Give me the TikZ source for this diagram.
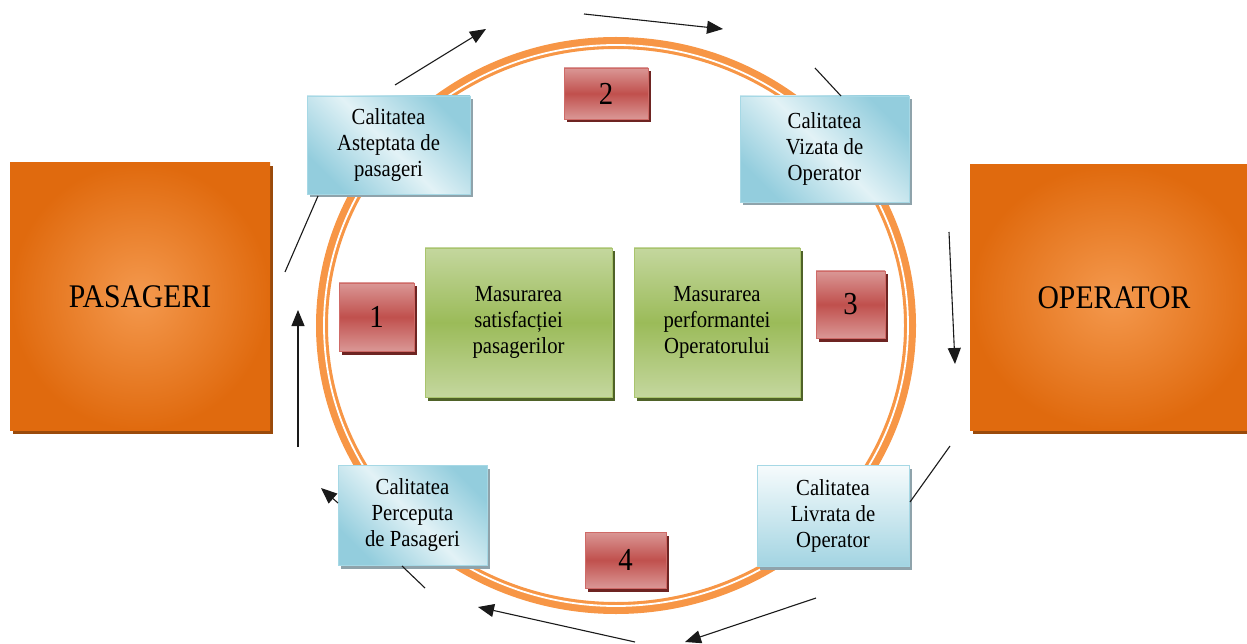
\documentclass[tikz,border=0pt]{standalone}
\usepackage{fontspec}
\setmainfont{LiberationSerif}[Extension=.ttf, UprightFont=*-Regular, BoldFont=*-Bold]
\newfontfamily\narrowserif{LiberationSerif}[Extension=.ttf, UprightFont=*-Regular, FakeStretch=0.9]
\usetikzlibrary{arrows.meta,shadows}
\definecolor{ringor}{HTML}{F79646}
\definecolor{ordark}{HTML}{E06A0E}
\definecolor{orlight}{HTML}{F4994E}
\definecolor{orshadow}{HTML}{9A4A0B}
\definecolor{redmid}{HTML}{C0504D}
\definecolor{redlight}{HTML}{DA9795}
\definecolor{redborder}{HTML}{CF6A67}
\definecolor{redshadow}{HTML}{6E2422}
\definecolor{grmid}{HTML}{9BBB59}
\definecolor{grlight}{HTML}{C4D79E}
\definecolor{grborder}{HTML}{A9C46D}
\definecolor{grshadow}{HTML}{4F6228}
\definecolor{bllight}{HTML}{E2F2F6}
\definecolor{bldark}{HTML}{93CDDD}
\definecolor{blborder}{HTML}{A6D8E5}
\definecolor{blshadow}{HTML}{8FA3AB}
\definecolor{linecol}{HTML}{1A1A1A}
\begin{document}
\begin{tikzpicture}[x=1pt,y=-1pt,
  sz/.style 2 args={minimum width=#1pt, minimum height=#2pt},
  basebox/.style={rectangle, inner sep=0pt, align=center, text=black},
  shad/.style={drop shadow={shadow xshift=3pt, shadow yshift=-3.5pt, fill=#1, opacity=1}},
  orangebox/.style={basebox, inner color=orlight, outer color=ordark, shad=orshadow,
    font=\narrowserif\fontsize{33}{38}\selectfont},
  redbox/.style={basebox, top color=redlight, bottom color=redlight, middle color=redmid,
    draw=redborder, line width=0.8pt, shad=redshadow, font=\narrowserif\fontsize{32}{36}\selectfont},
  greenbox/.style={basebox, top color=grlight, bottom color=grlight, middle color=grmid,
    draw=grborder, line width=0.8pt, shad=grshadow, font=\narrowserif\fontsize{23}{26}\selectfont},
  bluediag/.style={basebox, top color=bldark, bottom color=bldark, middle color=bllight,
    shading angle=-45, draw=blborder, line width=0.8pt, shad=blshadow,
    font=\narrowserif\fontsize{23}{26}\selectfont},
  bluevert/.style={basebox, top color=white!70!bllight, bottom color=bldark!80!bllight,
    draw=blborder, line width=0.8pt, shad=blshadow,
    font=\narrowserif\fontsize{23}{26}\selectfont},
  ringouter/.style={draw=ringor, line width=12pt},
  ringinner/.style={draw=white, line width=1.8pt},
  arr/.style={draw=linecol, line width=1.1pt, -{Triangle[length=16pt,width=13pt]}},
  ln/.style={draw=linecol, line width=1.1pt}]
\useasboundingbox (0,0) rectangle (1247,644);
\begin{scope}
\clip (0,0) rectangle (1247,644);
% ring
\draw[ringouter] (616,325.5) ellipse [x radius=294pt, y radius=282.5pt];
\draw[ringinner] (616,325.5) ellipse [x radius=292pt, y radius=280.5pt];
% big boxes
\node[orangebox, sz={260}{267}] (pas) at (140,296.5) {PASAGERI};
\node[orangebox, sz={288}{265}] (op) at (1114,297.5) {OPERATOR};
% blue boxes
\node[bluediag, sz={163}{98}] (ast) at (388.5,145) {Calitatea\\Asteptata de\\pasageri};
\node[bluediag, sz={169}{106}] (viz) at (824.5,149) {Calitatea\\Vizata de\\Operator};
\node[bluediag, sz={149}{100}] (per) at (412.5,515) {Calitatea\\Perceputa\\de Pasageri};
\node[bluevert, sz={152}{101}] (liv) at (833,515.5) {Calitatea\\Livrata de\\Operator};
% red boxes
\node[redbox, sz={75}{68}] (r1) at (376.5,317) {1};
\node[redbox, sz={84}{51}] (r2) at (606,93.5) {2};
\node[redbox, sz={69}{67}] (r3) at (850.5,304.5) {3};
\node[redbox, sz={81}{56}] (r4) at (625.5,560) {4};
% green boxes
\node[greenbox, sz={187}{149}] (g1) at (518.5,322.5) {Masurarea\\satisfacției\\pasagerilor};
\node[greenbox, sz={166}{149}] (g2) at (717,322.5) {Masurarea\\performantei\\Operatorului};
% arrow end points
\coordinate (a1s) at (285,272); \coordinate (a1e) at (318,196);
\coordinate (a2s) at (395,85);  \coordinate (a2e) at (486,29);
\coordinate (a3s) at (584,14);  \coordinate (a3e) at (723,29);
\coordinate (a4s) at (815,68);  \coordinate (a4e) at (841,96);
\coordinate (a5s) at (949,232); \coordinate (a5e) at (955,364);
\coordinate (a6s) at (950,446); \coordinate (a6e) at (910,502);
\coordinate (a7s) at (816,598); \coordinate (a7e) at (685,642);
\coordinate (a8s) at (635,642); \coordinate (a8e) at (478,607);
\coordinate (a9s) at (402,566); \coordinate (a9e) at (425,588);
\coordinate (a10s) at (338,503); \coordinate (a10e) at (321,488);
\coordinate (a11s) at (298,447); \coordinate (a11e) at (298,310);
\draw[ln] (a1s) -- (a1e);
\draw[arr] (a2s) -- (a2e);
\draw[arr] (a3s) -- (a3e);
\draw[ln] (a4s) -- (a4e);
\draw[arr] (a5s) -- (a5e);
\draw[ln] (a6s) -- (a6e);
\draw[arr] (a7s) -- (a7e);
\draw[arr] (a8s) -- (a8e);
\draw[ln] (a9s) -- (a9e);
\draw[arr] (a10s) -- (a10e);
\draw[arr] (a11s) -- (a11e);
\end{scope}
\end{tikzpicture}
\end{document}
